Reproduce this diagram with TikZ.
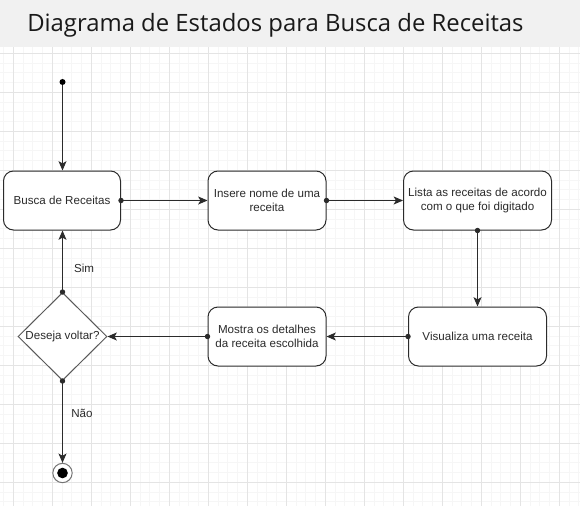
\documentclass[tikz,border=0pt]{standalone}
\usepackage{fontspec}
\setmainfont{Liberation Sans}
\newfontfamily\titlefont{Open Sans}
\usetikzlibrary{arrows.meta,shapes.geometric}
\definecolor{gridminor}{HTML}{F6F6F6}
\definecolor{gridmajor}{HTML}{E4E4E4}
\definecolor{headbg}{HTML}{F1F1F1}
\definecolor{ink}{HTML}{2B2B2B}
\tikzset{
  statebox/.style={draw=ink, line width=0.75pt, rounded corners=7.5pt, fill=white,
    align=center, font=\fontsize{8.7}{10.6}\selectfont, text=ink, inner sep=2pt},
  conn/.style={draw=ink, line width=0.75pt, shorten <=-2pt, {Circle[length=4pt]}-{Stealth[length=7pt,width=6pt,inset=1.7pt]}},
  plainconn/.style={draw=ink, line width=0.75pt, -{Stealth[length=7pt,width=6pt,inset=1.7pt]}},
  edgelabel/.style={font=\fontsize{8.7}{10.6}\selectfont, text=ink, inner sep=0pt}
}
\begin{document}
\begin{tikzpicture}[x=0.75pt,y=-0.75pt]
\useasboundingbox (0,0) rectangle (580,506);
\fill[white] (0,0) rectangle (580,506);
% grid
\foreach \i in {0,...,59} {
  \draw[gridminor, line width=0.5pt] ({3.55+9.75*\i},47) -- ({3.55+9.75*\i},506);
}
\foreach \i in {0,...,47} {
  \draw[gridminor, line width=0.5pt] (0,{53.3+9.75*\i}) -- (580,{53.3+9.75*\i});
}
\foreach \i in {0,...,14} {
  \draw[gridmajor, line width=0.5pt] ({13.3+39*\i},47) -- ({13.3+39*\i},506);
}
\foreach \i in {0,...,11} {
  \draw[gridmajor, line width=0.5pt] (0,{53.3+39*\i}) -- (580,{53.3+39*\i});
}
% header
\fill[headbg] (0,0) rectangle (580,47);
\node[anchor=base west, inner sep=0pt, font=\titlefont\fontsize{17.9}{22}\selectfont, text=black!90] (title) at (27,32) {Diagrama de Estados para Busca de Receitas};

% nodes
\node[circle, fill=black, inner sep=0pt, minimum size=4.5pt] (ini) at (62.5,82) {};
\node[statebox, minimum width=87.75pt, minimum height=44.25pt] (busca) at (62,200.5) {Busca de Receitas};
\node[statebox, minimum width=88.5pt, minimum height=44.25pt] (insere) at (267,200.5) {Insere nome de uma\\receita};
\node[statebox, minimum width=111pt, minimum height=44.25pt] (lista) at (477.5,200.5) {Lista as receitas de acordo\\com o que foi digitado};
\node[statebox, minimum width=103.5pt, minimum height=44.25pt] (visual) at (477.5,336.5) {Visualiza uma receita};
\node[statebox, minimum width=88.5pt, minimum height=44.25pt] (mostra) at (267,336.5) {Mostra os detalhes\\da receita escolhida};
\node[diamond, draw=black!65, line width=0.75pt, fill=white, inner sep=0pt, minimum width=66.75pt, minimum height=66pt] (dec) at (62.5,336.5) {};
\node[edgelabel] (dectext) at (dec.center) {Deseja voltar?};
\node[circle, draw=black!55, line width=0.75pt, fill=white, inner sep=0pt, minimum size=14.5pt] (fin) at (62.5,473) {};
\node[circle, fill=black, inner sep=0pt, minimum size=8pt] (fininner) at (fin.center) {};

% connectors
\draw[plainconn] (ini) -- (busca.north -| ini);
\draw[conn] (busca.east) -- (insere.west);
\draw[conn] (insere.east) -- (lista.west);
\draw[conn] (lista.south) -- (visual.north);
\draw[conn] (visual.west) -- (mostra.east);
\draw[conn] (mostra.west) -- (dec.east);
\draw[conn] (dec.north) -- (busca.south -| dec.north);
\draw[conn] (dec.south) -- (fin.north);

% labels
\node[edgelabel] (sim) at (84,268) {Sim};
\node[edgelabel] (nao) at (82,413) {Não};
\end{tikzpicture}
\end{document}
